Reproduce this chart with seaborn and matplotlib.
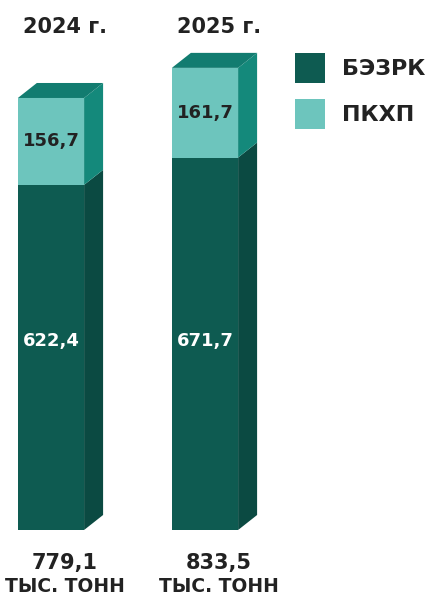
import numpy as np
import pandas as pd
import matplotlib
matplotlib.use("Agg")
import matplotlib.pyplot as plt
import seaborn as sns
from matplotlib.patches import Polygon, Patch

years = ["2024 г.", "2025 г."]
bezrk = [622.4, 671.7]
pkhp = [156.7, 161.7]
totals = ["779,1", "833,5"]
unit = "ТЫС. ТОНН"
series_names = ["БЭЗРК", "ПКХП"]

dark_front = "#0e5b51"
dark_side = "#0b4a42"
light_front = "#6dc5bd"
light_side = "#14897b"
top_col = "#127c70"
txt_col = "#222222"

sns.set_theme(style="white")
plt.rcParams["font.family"] = ["DejaVu Sans"]

df = pd.DataFrame({"year": years, "bezrk": bezrk, "pkhp": pkhp})
df["total"] = df["bezrk"] + df["pkhp"]

fig = plt.figure(figsize=(4.3, 5.98), dpi=100)
ax = fig.add_axes([0, 68 / 598, 1, 530 / 598])

sns.barplot(data=df, x="year", y="total", color=light_front, width=0.43,
            saturation=1, ax=ax, linewidth=0)
sns.barplot(data=df, x="year", y="bezrk", color=dark_front, width=0.43,
            saturation=1, ax=ax, linewidth=0)

ax.set_xlim(-0.331, 2.461)
ax.set_ylim(0, 955.8)
ax.axis("off")

# depth of the pseudo 3D faces
dx = 19 / 154
dy = 15 / 0.5545

bars = ax.patches[:2]
for i, p in enumerate(bars):
    x0 = p.get_x()
    x1 = x0 + p.get_width()
    b = df["bezrk"][i]
    t = df["total"][i]
    ax.add_patch(Polygon([(x1, 0), (x1 + dx, dy), (x1 + dx, b + dy), (x1, b)],
                         closed=True, fc=dark_side, ec="none"))
    ax.add_patch(Polygon([(x1, b), (x1 + dx, b + dy), (x1 + dx, t + dy), (x1, t)],
                         closed=True, fc=light_side, ec="none"))
    ax.add_patch(Polygon([(x0, t), (x0 + dx, t + dy), (x1 + dx, t + dy), (x1, t)],
                         closed=True, fc=top_col, ec="none"))

    xc = (x0 + x1) / 2
    ax.text(xc, b + df["pkhp"][i] / 2, f"{df['pkhp'][i]:.1f}".replace(".", ","),
            ha="center", va="center", fontsize=13, fontweight="bold", color=txt_col)
    ax.text(xc, 340, f"{b:.1f}".replace(".", ","),
            ha="center", va="center", fontsize=13, fontweight="bold", color="white")

    xt = ax.transData.transform((xc + 0.09, 0))[0] / 430
    fig.text(xt, 1 - 27 / 598, years[i],
             ha="center", va="center", fontsize=15, fontweight="bold", color=txt_col)
    fig.text(xt, 1 - 563 / 598, totals[i],
             ha="center", va="center", fontsize=15, fontweight="bold", color=txt_col)
    fig.text(xt, 1 - 587 / 598, unit,
             ha="center", va="center", fontsize=13.5, fontweight="bold", color=txt_col)

handles = [Patch(fc=dark_front, ec="none"), Patch(fc=light_front, ec="none")]
leg = fig.legend(handles, series_names, loc="upper left",
                 bbox_to_anchor=(295 / 430, 1 - 53 / 598), frameon=False,
                 fontsize=16, handlelength=1.36, handleheight=1.36 * 1.25,
                 labelspacing=0.7, handletextpad=0.75, borderpad=0, borderaxespad=0)
for t in leg.get_texts():
    t.set_fontweight("bold")
    t.set_color(txt_col)

fig.savefig("out.png", dpi=100)
